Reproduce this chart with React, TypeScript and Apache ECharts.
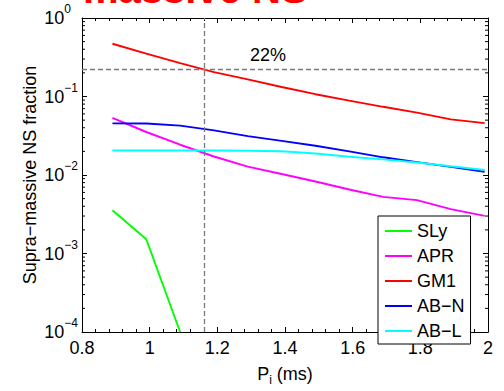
import React, { useEffect, useRef } from "react";
import * as echarts from "echarts";

const xs = [0.89, 0.99, 1.09, 1.19, 1.29, 1.39, 1.49, 1.59, 1.69, 1.79, 1.89, 1.99];
const slyX = [0.89, 0.99, 1.09];
const slyY = [0.00355, 0.00152, 0.0001];
const aprY = [0.0534, 0.0353, 0.0243, 0.0172, 0.0128, 0.0103, 0.00826, 0.00653, 0.00526, 0.00478, 0.00368, 0.00302];
const gm1Y = [0.47, 0.352, 0.266, 0.204, 0.165, 0.132, 0.107, 0.0887, 0.0739, 0.0624, 0.0512, 0.0458];
const abnY = [0.0455, 0.0452, 0.0425, 0.037, 0.0313, 0.0272, 0.0236, 0.0200, 0.0168, 0.0146, 0.0127, 0.011];
const ablY = [0.0205, 0.0205, 0.0205, 0.0205, 0.0204, 0.0201, 0.0188, 0.0171, 0.0158, 0.0144, 0.0129, 0.0116];
const seriesNames = ["SLy", "APR", "GM1", "AB\u2212N", "AB\u2212L"];
const seriesColors = ["#00ff00", "#ff00ff", "#ff0000", "#0000ff", "#00ffff"];
const xTicks = [0.8, 1, 1.2, 1.4, 1.6, 1.8, 2];
const threshold = 0.22;
const periodMark = 1.16;
const thresholdLabel = "22%";
const thresholdLabelPos = [1.35, 0.34];
const yDecades = [-4, -3, -2, -1];
const yMinorMult = [2, 3, 4, 5, 6, 7, 8, 9];

const FONT = "Liberation Sans";

export default function App() {
  const ref = useRef<HTMLDivElement>(null);
  useEffect(() => {
    if (!ref.current) return;
    const chart = echarts.init(ref.current, undefined, { renderer: "svg" });
    const pair = (xv: number[], yv: number[]) => xv.map((x, i) => [x, yv[i]]);
    const minorVals: number[][] = [];
    yDecades.forEach((d) => yMinorMult.forEach((m) => minorVals.push([xTicks[0], m * Math.pow(10, d)])));
    const lineStyleBase = { width: 1.9 };
    const ys = [slyY, aprY, gm1Y, abnY, ablY];
    const xsList = [slyX, xs, xs, xs, xs];
    const series: any[] = ys.map((yv, i) => ({
      name: seriesNames[i],
      type: "line",
      data: pair(xsList[i], yv),
      symbol: "none",
      showSymbol: false,
      color: seriesColors[i],
      lineStyle: { ...lineStyleBase, color: seriesColors[i] },
      clip: true,
      z: 3,
    }));
    series[0].markLine = {
      silent: true,
      symbol: "none",
      label: { show: false },
      lineStyle: { color: "#7a7a7a", type: [5, 3], width: 1.3 },
      data: [{ yAxis: threshold }, { xAxis: periodMark }],
    };
    series[0].markPoint = {
      symbol: "circle",
      symbolSize: 0,
      silent: true,
      label: {
        show: true,
        position: "inside",
        formatter: thresholdLabel,
        color: "#000",
        fontSize: 18,
        fontFamily: FONT,
      },
      data: [{ coord: thresholdLabelPos }],
    };
    series.push({
      type: "custom",
      silent: true,
      data: minorVals,
      encode: { x: 0, y: 1 },
      clip: false,
      z: 5,
      renderItem: (_params: any, api: any) => {
        const v = api.value(1);
        const l = api.coord([xTicks[0], v]);
        const r = api.coord([xTicks[xTicks.length - 1], v]);
        return {
          type: "group",
          children: [
            { type: "line", shape: { x1: l[0], y1: l[1], x2: l[0] + 3, y2: l[1] }, style: { stroke: "#000", lineWidth: 1 } },
            { type: "line", shape: { x1: r[0], y1: r[1], x2: r[0] - 3, y2: r[1] }, style: { stroke: "#000", lineWidth: 1 } },
          ],
        };
      },
    });

    const axisLineStyle = { show: true, lineStyle: { color: "#000", width: 1 } };
    const xBase = {
      type: "value",
      min: 0.8,
      max: 2,
      interval: 0.2,
      splitLine: { show: false },
      axisLine: axisLineStyle,
      axisTick: { inside: true, length: 5, lineStyle: { color: "#000" } },
      minorTick: { show: true, splitNumber: 5, length: 3, lineStyle: { color: "#000" } },
    };
    const yBase = {
      type: "log",
      logBase: 10,
      min: 1e-4,
      max: 1,
      splitNumber: 4,
      splitLine: { show: false },
      axisLine: axisLineStyle,
      axisTick: { inside: true, length: 5, lineStyle: { color: "#000" } },
    };
    const supStyle = (padRight: number) => ({
      fontSize: 12,
      padding: [0, padRight, 18, 0],
      color: "#000",
      fontFamily: FONT,
    });
    const option: any = {
      animation: false,
      backgroundColor: "#fff",
      textStyle: { fontFamily: FONT },
      grid: { left: 82, right: 16, top: 18, bottom: 46, show: false },
      legend: {
        data: seriesNames.map((n) => ({ name: n, icon: "rect" })),
        orient: "vertical",
        left: 378,
        top: 216,
        itemWidth: 27,
        itemHeight: 2,
        itemGap: 7,
        padding: [6, 6, 4, 7],
        backgroundColor: "#fff",
        borderColor: "#000",
        borderWidth: 1,
        borderRadius: 0,
        selectedMode: false,
        textStyle: { fontSize: 18, lineHeight: 18, color: "#000", fontFamily: FONT },
        z: 10,
      },
      xAxis: [
        {
          ...xBase,
          position: "bottom",
          name: "P{sub|i} (ms)",
          nameLocation: "middle",
          nameGap: 30,
          nameMoveOverlap: false,
          nameTextStyle: {
            fontSize: 18,
            color: "#000",
            fontFamily: FONT,
            rich: { sub: { fontSize: 12, padding: [12, 0, 0, 0], fontFamily: FONT, color: "#000" } },
          },
          axisLabel: { fontSize: 18, color: "#000", margin: 7, fontFamily: FONT, showMinLabel: true, showMaxLabel: true },
        },
        { ...xBase, position: "top", axisLabel: { show: false } },
      ],
      yAxis: [
        {
          ...yBase,
          position: "left",
          name: "Supra\u2212massive NS fraction",
          nameLocation: "middle",
          nameGap: 43,
          nameMoveOverlap: false,
          nameTextStyle: { fontSize: 18, color: "#000", fontFamily: FONT },
          axisLabel: {
            fontSize: 18,
            color: "#000",
            margin: 1,
            fontFamily: FONT,
            showMinLabel: true,
            showMaxLabel: true,
            formatter: (v: number) => {
              const e = Math.round(Math.log10(v));
              return e < 0 ? "10{s2|\u2212" + -e + "}" : "10{s1|" + e + "}";
            },
            rich: { s1: supStyle(10), s2: supStyle(3) },
          },
        },
        { ...yBase, position: "right", axisLabel: { show: false } },
      ],
      graphic: [
        {
          type: "text",
          x: 83,
          y: -11,
          style: {
            text: "massive NS",
            fill: "#ff0000",
            font: "bold 40px 'Liberation Sans'",
            verticalAlign: "middle",
          },
          z: 20,
        },
      ],
      series,
    };
    chart.setOption(option);
    return () => chart.dispose();
  }, []);
  return <div ref={ref} style={{ position: "fixed", left: 0, top: 0, width: 504, height: 391 }} />;
}
